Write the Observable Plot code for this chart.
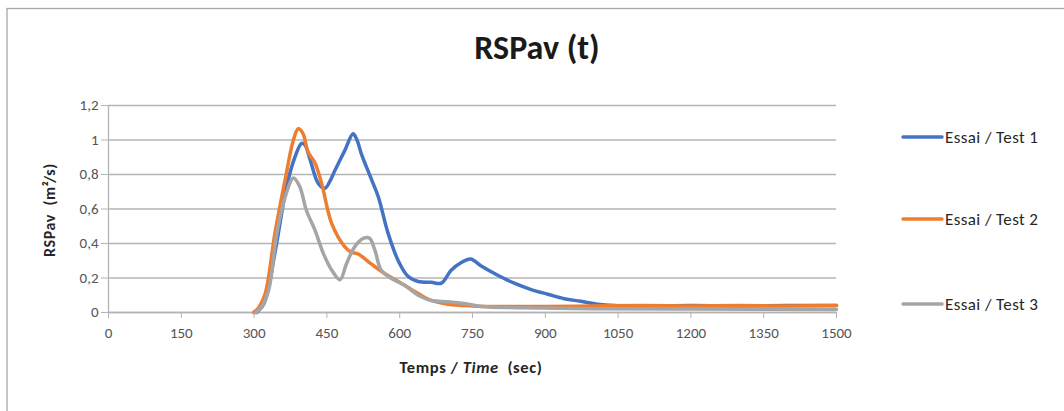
<!DOCTYPE html>
<html>
<head>
<meta charset="utf-8">
<script src="https://cdn.jsdelivr.net/npm/d3@7"></script>
<script src="https://cdn.jsdelivr.net/npm/@observablehq/plot@0.6"></script>
<style>
  html, body { margin: 0; padding: 0; background: #fff; }
  #chart { width: 1064px; height: 411px; overflow: hidden; }
  svg { font-family: Carlito, Lato, "Open Sans", sans-serif; }
  #chart svg g[aria-label$="tick label"] { font-size: 15px !important; }
</style>
</head>
<body>
<div id="chart"></div>
<script>
const seriesNames = ["Essai / Test 1", "Essai / Test 2", "Essai / Test 3"];
const seriesColors = ["#4472C4", "#ED7D31", "#A5A5A5"];

const test1Time = [305, 320, 330, 340, 350, 367, 384, 398, 405, 415, 432, 446, 456, 466, 487, 504, 512, 521, 542, 556, 576, 597, 617, 638, 665, 686, 706, 727, 746, 768, 802, 836, 871, 905, 939, 973, 1008, 1042, 1100, 1200, 1300, 1400, 1500];
const test1Value = [0, 0.05, 0.15, 0.3, 0.46, 0.73, 0.90, 0.98, 0.97, 0.89, 0.75, 0.72, 0.76, 0.82, 0.94, 1.036, 1.0, 0.92, 0.77, 0.67, 0.46, 0.30, 0.21, 0.18, 0.175, 0.17, 0.245, 0.29, 0.31, 0.27, 0.216, 0.17, 0.133, 0.106, 0.08, 0.065, 0.048, 0.04, 0.038, 0.04, 0.038, 0.04, 0.04];

const test2Time = [299, 310, 323, 343, 364, 381, 391, 401, 411, 425, 439, 460, 487, 500, 514, 542, 569, 597, 638, 665, 699, 750, 800, 900, 1000, 1100, 1200, 1300, 1400, 1500];
const test2Value = [0, 0.03, 0.11, 0.46, 0.77, 1.0, 1.065, 1.036, 0.93, 0.87, 0.75, 0.515, 0.38, 0.35, 0.34, 0.28, 0.226, 0.18, 0.11, 0.07, 0.048, 0.038, 0.035, 0.035, 0.038, 0.04, 0.038, 0.04, 0.038, 0.04];

const test3Time = [303, 315, 330, 347, 364, 381, 394, 408, 425, 443, 460, 477, 490, 507, 525, 538, 549, 562, 583, 610, 638, 665, 700, 733, 768, 850, 1000, 1200, 1500];
const test3Value = [0, 0.03, 0.13, 0.46, 0.67, 0.78, 0.73, 0.59, 0.48, 0.34, 0.245, 0.19, 0.28, 0.38, 0.43, 0.43, 0.36, 0.245, 0.197, 0.158, 0.10, 0.07, 0.062, 0.052, 0.035, 0.028, 0.022, 0.02, 0.018];

const xTicks = [0, 150, 300, 450, 600, 750, 900, 1050, 1200, 1350, 1500];
const yTicks = [0, 0.2, 0.4, 0.6, 0.8, 1, 1.2];

const times = [test1Time, test2Time, test3Time];
const values = [test1Value, test2Value, test3Value];
const data = [];
seriesNames.forEach((s, i) => times[i].forEach((t, j) => data.push({series: s, t, v: values[i][j]})));

const fmtY = d => String(d).replace(".", ",");
const fmtX = d => String(d);

const plot = Plot.plot({
  width: 1064,
  height: 411,
  marginLeft: 108,
  marginRight: 228,
  marginTop: 105,
  marginBottom: 99,
  style: {fontFamily: "Carlito, Lato, 'Open Sans', sans-serif", fontSize: "15px", color: "#595959", background: "#fff"},
  x: {domain: [0, 1500], ticks: xTicks},
  y: {domain: [0, 1.2], ticks: yTicks},
  color: {domain: seriesNames, range: seriesColors},
  marks: [
    Plot.gridY(yTicks, {stroke: "#b4b4b4", strokeOpacity: 1, strokeWidth: 1.3}),
    Plot.axisY(yTicks, {tickSize: 7, tickPadding: 3, tickFormat: fmtY, stroke: "#b4b4b4", fill: "#555555", label: null}),
    Plot.axisX(xTicks, {tickSize: 6, tickPadding: 9, tickFormat: fmtX, stroke: "#b4b4b4", fill: "#555555", label: null}),
    Plot.ruleX([0], {stroke: "#b4b4b4", strokeWidth: 1.3}),
    Plot.ruleY([0], {stroke: "#b4b4b4", strokeWidth: 1.3}),
    Plot.line(data, {x: "t", y: "v", z: "series", stroke: "series", strokeWidth: 3.5, curve: "catmull-rom"})
  ]
});
document.getElementById("chart").appendChild(plot);

const svg = d3.select(plot);
// frame
svg.insert("rect", ":first-child")
  .attr("x", 7).attr("y", 8.5).attr("width", 1100).attr("height", 450)
  .attr("fill", "none").attr("stroke", "#a6a6a6").attr("stroke-width", 1.3);

svg.append("text").attr("x", 537).attr("y", 59).attr("text-anchor", "middle")
  .attr("font-size", 34).attr("font-weight", "bold").attr("fill", "#1a1a1a").text("RSPav (t)");

const xl = svg.append("text").attr("x", 471).attr("y", 373).attr("text-anchor", "middle")
  .attr("font-size", 16.5).attr("font-weight", "bold").attr("fill", "#262626")
  .attr("letter-spacing", "0.6px").style("white-space", "pre");
xl.append("tspan").text("Temps / ");
xl.append("tspan").attr("font-style", "italic").text("Time");
xl.append("tspan").text("  (sec)");

svg.append("text").attr("transform", "translate(55,210) rotate(-90)").attr("text-anchor", "middle")
  .attr("font-size", 16).attr("font-weight", "bold").attr("fill", "#262626")
  .attr("letter-spacing", "0.6px").style("white-space", "pre").text("RSPav  (m²/s)");

const legendY = [137, 219, 304];
seriesNames.forEach((s, i) => {
  svg.append("line").attr("x1", 903).attr("x2", 942).attr("y1", legendY[i]).attr("y2", legendY[i])
    .attr("stroke", seriesColors[i]).attr("stroke-width", 3.5).attr("stroke-linecap", "round");
  svg.append("text").attr("x", 945).attr("y", legendY[i] + 5.5).attr("text-anchor", "start")
    .attr("font-size", 17).attr("letter-spacing", "0.4px")
    .attr("fill", "#262626").text(s);
});
</script>
</body>
</html>
